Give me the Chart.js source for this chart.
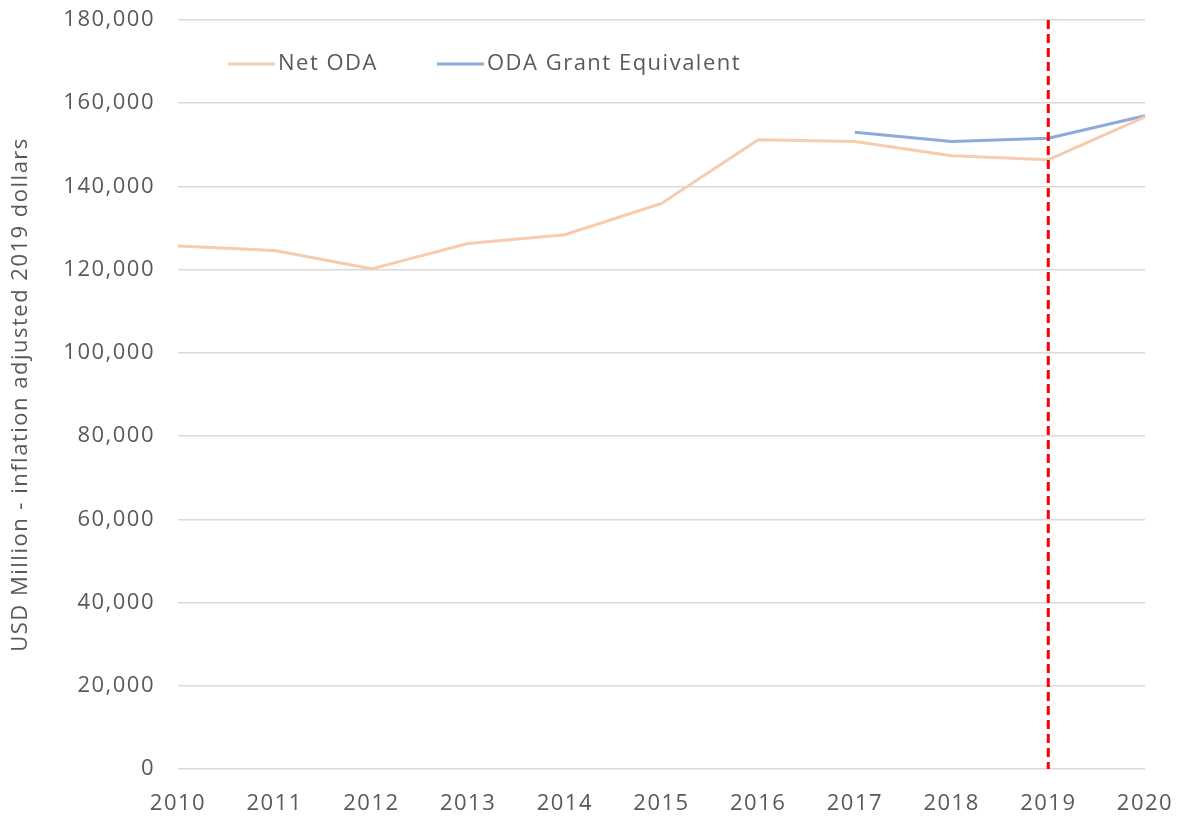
<!DOCTYPE html>
<html>
<head>
<meta charset="utf-8">
<script src="https://cdn.jsdelivr.net/npm/chart.js@4"></script>
<style>
  html, body { margin: 0; padding: 0; background: #fff; }
  #wrap { width: 1179px; height: 818px; }
</style>
</head>
<body>
<div id="wrap"><canvas id="oda" width="1179" height="818"></canvas></div>
<script>
const years = ["2010", "2011", "2012", "2013", "2014", "2015", "2016", "2017", "2018", "2019", "2020"];
const netOda = [125700, 124600, 120200, 126300, 128400, 135900, 151200, 150800, 147400, 146400, 156700];
const grantEquivalent = [null, null, null, null, null, null, null, 153000, 150800, 151600, 157000];
const markerYear = "2019";
const yTicks = { min: 0, max: 180000, step: 20000 };

const colors = {
  net: "#f8cbad",
  grant: "#8eaadb",
  marker: "#ff0000",
  grid: "#d9d9d9",
  text: "#595959",
};
const fontFamily = "'Open Sans', sans-serif";
const spacing = "1.5px";

// the original font is wider than Open Sans, so open up the tracking a bit
const tracking = {
  id: "tracking",
  beforeLayout(chart) { chart.ctx.letterSpacing = spacing; },
  beforeDraw(chart) { chart.ctx.letterSpacing = spacing; },
};

const markerLine = {
  id: "markerLine",
  afterDatasetsDraw(chart) {
    const { ctx, chartArea, scales } = chart;
    const x = scales.x.getPixelForValue(years.indexOf(markerYear));
    ctx.save();
    ctx.strokeStyle = colors.marker;
    ctx.lineWidth = 3;
    ctx.setLineDash([9, 5]);
    ctx.beginPath();
    ctx.moveTo(x, chartArea.top);
    ctx.lineTo(x, chartArea.bottom);
    ctx.stroke();
    ctx.restore();
  },
};

// legend drawn inside the plot, as in the original
const insideLegend = {
  id: "insideLegend",
  afterDraw(chart) {
    const { ctx, chartArea } = chart;
    ctx.save();
    ctx.font = `22px ${fontFamily}`;
    ctx.textBaseline = "middle";
    let x = chartArea.left + 50;
    const y = chartArea.top + 44;
    chart.data.datasets.forEach((ds) => {
      ctx.strokeStyle = ds.borderColor;
      ctx.lineWidth = 3;
      ctx.beginPath();
      ctx.moveTo(x, y);
      ctx.lineTo(x + 47, y);
      ctx.stroke();
      ctx.fillStyle = colors.text;
      ctx.fillText(ds.label, x + 50, y);
      x += 50 + ctx.measureText(ds.label).width + 59;
    });
    ctx.restore();
  },
};

new Chart(document.querySelector("#oda"), {
  type: "line",
  data: {
    labels: years,
    datasets: [
      {
        label: "Net ODA",
        data: netOda,
        borderColor: colors.net,
        backgroundColor: colors.net,
        borderWidth: 3,
        pointRadius: 0,
        tension: 0,
      },
      {
        label: "ODA Grant Equivalent",
        data: grantEquivalent,
        borderColor: colors.grant,
        backgroundColor: colors.grant,
        borderWidth: 3,
        pointRadius: 0,
        tension: 0,
      },
    ],
  },
  options: {
    responsive: false,
    animation: false,
    layout: { padding: { top: 20, right: 34, left: 8, bottom: 0 } },
    plugins: {
      legend: { display: false },
      tooltip: { enabled: false },
    },
    scales: {
      x: {
        offset: false,
        grid: { display: false },
        border: { display: false },
        ticks: {
          color: colors.text,
          font: { family: fontFamily, size: 22 },
          maxRotation: 0,
          autoSkip: false,
          padding: 14,
        },
        afterFit(scale) {
          scale.height = 49;
          scale.paddingLeft = 0;
          scale.paddingRight = 0;
        },
      },
      y: {
        min: yTicks.min,
        max: yTicks.max,
        border: { display: false },
        grid: { color: colors.grid, lineWidth: 1.5, drawTicks: false },
        ticks: {
          stepSize: yTicks.step,
          color: colors.text,
          font: { family: fontFamily, size: 22 },
          padding: 23,
          callback: (v) => v.toLocaleString("en-US"),
        },
        title: {
          display: true,
          text: "USD Million - inflation adjusted 2019 dollars",
          color: colors.text,
          font: { family: fontFamily, size: 22 },
          padding: 0,
        },
        afterFit(scale) {
          scale.width = 170;
          scale.paddingTop = 0;
          scale.paddingBottom = 0;
        },
      },
    },
  },
  plugins: [tracking, markerLine, insideLegend],
});
</script>
</body>
</html>
